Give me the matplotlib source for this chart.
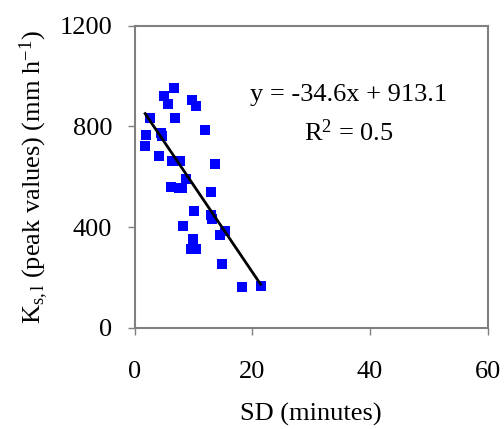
import matplotlib
matplotlib.use("Agg")
import matplotlib.pyplot as plt
import numpy as np

plt.rcParams['font.family'] = ['Liberation Serif', 'DejaVu Serif']
plt.rcParams['mathtext.fontset'] = 'custom'
plt.rcParams['mathtext.rm'] = 'Liberation Serif'
plt.rcParams['mathtext.it'] = 'Liberation Serif:italic'

# SD (minutes) vs Ks,l peak values (mm/h)
sd = [1.8, 1.9, 2.6, 4.1, 4.5, 4.7, 5.0, 5.6, 6.7, 6.8, 6.3, 6.2, 7.7, 7.5, 8.0,
      8.2, 8.7, 9.8, 10.4, 10.1, 10.0, 9.5, 10.4, 12.0, 13.0, 13.7, 13.0, 13.1,
      14.5, 15.3, 14.9, 18.2, 21.4]
ks = [723, 766, 832, 683, 772, 763, 922, 891, 951, 834, 661, 559, 662, 556, 554,
      404, 591, 905, 882, 465, 351, 311, 311, 785, 538, 649, 448, 434,
      367, 385, 252, 160, 167]

slope = -34.6
intercept = 913.1
fit_x = [1.8, 21.4]

fig = plt.figure(figsize=(5.04, 4.29), dpi=100)
ax = fig.add_axes([0.267, 0.236, 0.701, 0.704])

ax.plot(sd, ks, 's', color='#0000ff', markersize=7.3, markeredgewidth=0, zorder=3)
fx = np.array(fit_x)
ax.plot(fx, slope * fx + intercept, color='black', lw=2, zorder=4)

ax.set_xlim(0, 60)
ax.set_ylim(0, 1200)
ax.set_xticks([0, 20, 40, 60])
ax.set_yticks([0, 400, 800, 1200])

for s in ax.spines.values():
    s.set_color('#808080')
    s.set_linewidth(1.5)
ax.tick_params(axis='both', colors='#808080', length=5, width=1, labelsize=19,
               labelcolor='black')
ax.tick_params(axis='x', pad=19)
ax.tick_params(axis='y', pad=11)

ax.set_xlabel('SD (minutes)', fontsize=19, labelpad=14)
ax.set_ylabel(r'K$_{\mathrm{s,l}}$ (peak values) (mm h$^{\mathrm{-1}}$)', fontsize=19, labelpad=6)

ax.text(0.605, 0.77, 'y = -34.6x + 913.1', transform=ax.transAxes, fontsize=19,
        ha='center', va='center')
ax.text(0.605, 0.645, r'R$^{\mathrm{2}}$ = 0.5', transform=ax.transAxes, fontsize=19,
        ha='center', va='center')

fig.savefig('out.png', dpi=100)
